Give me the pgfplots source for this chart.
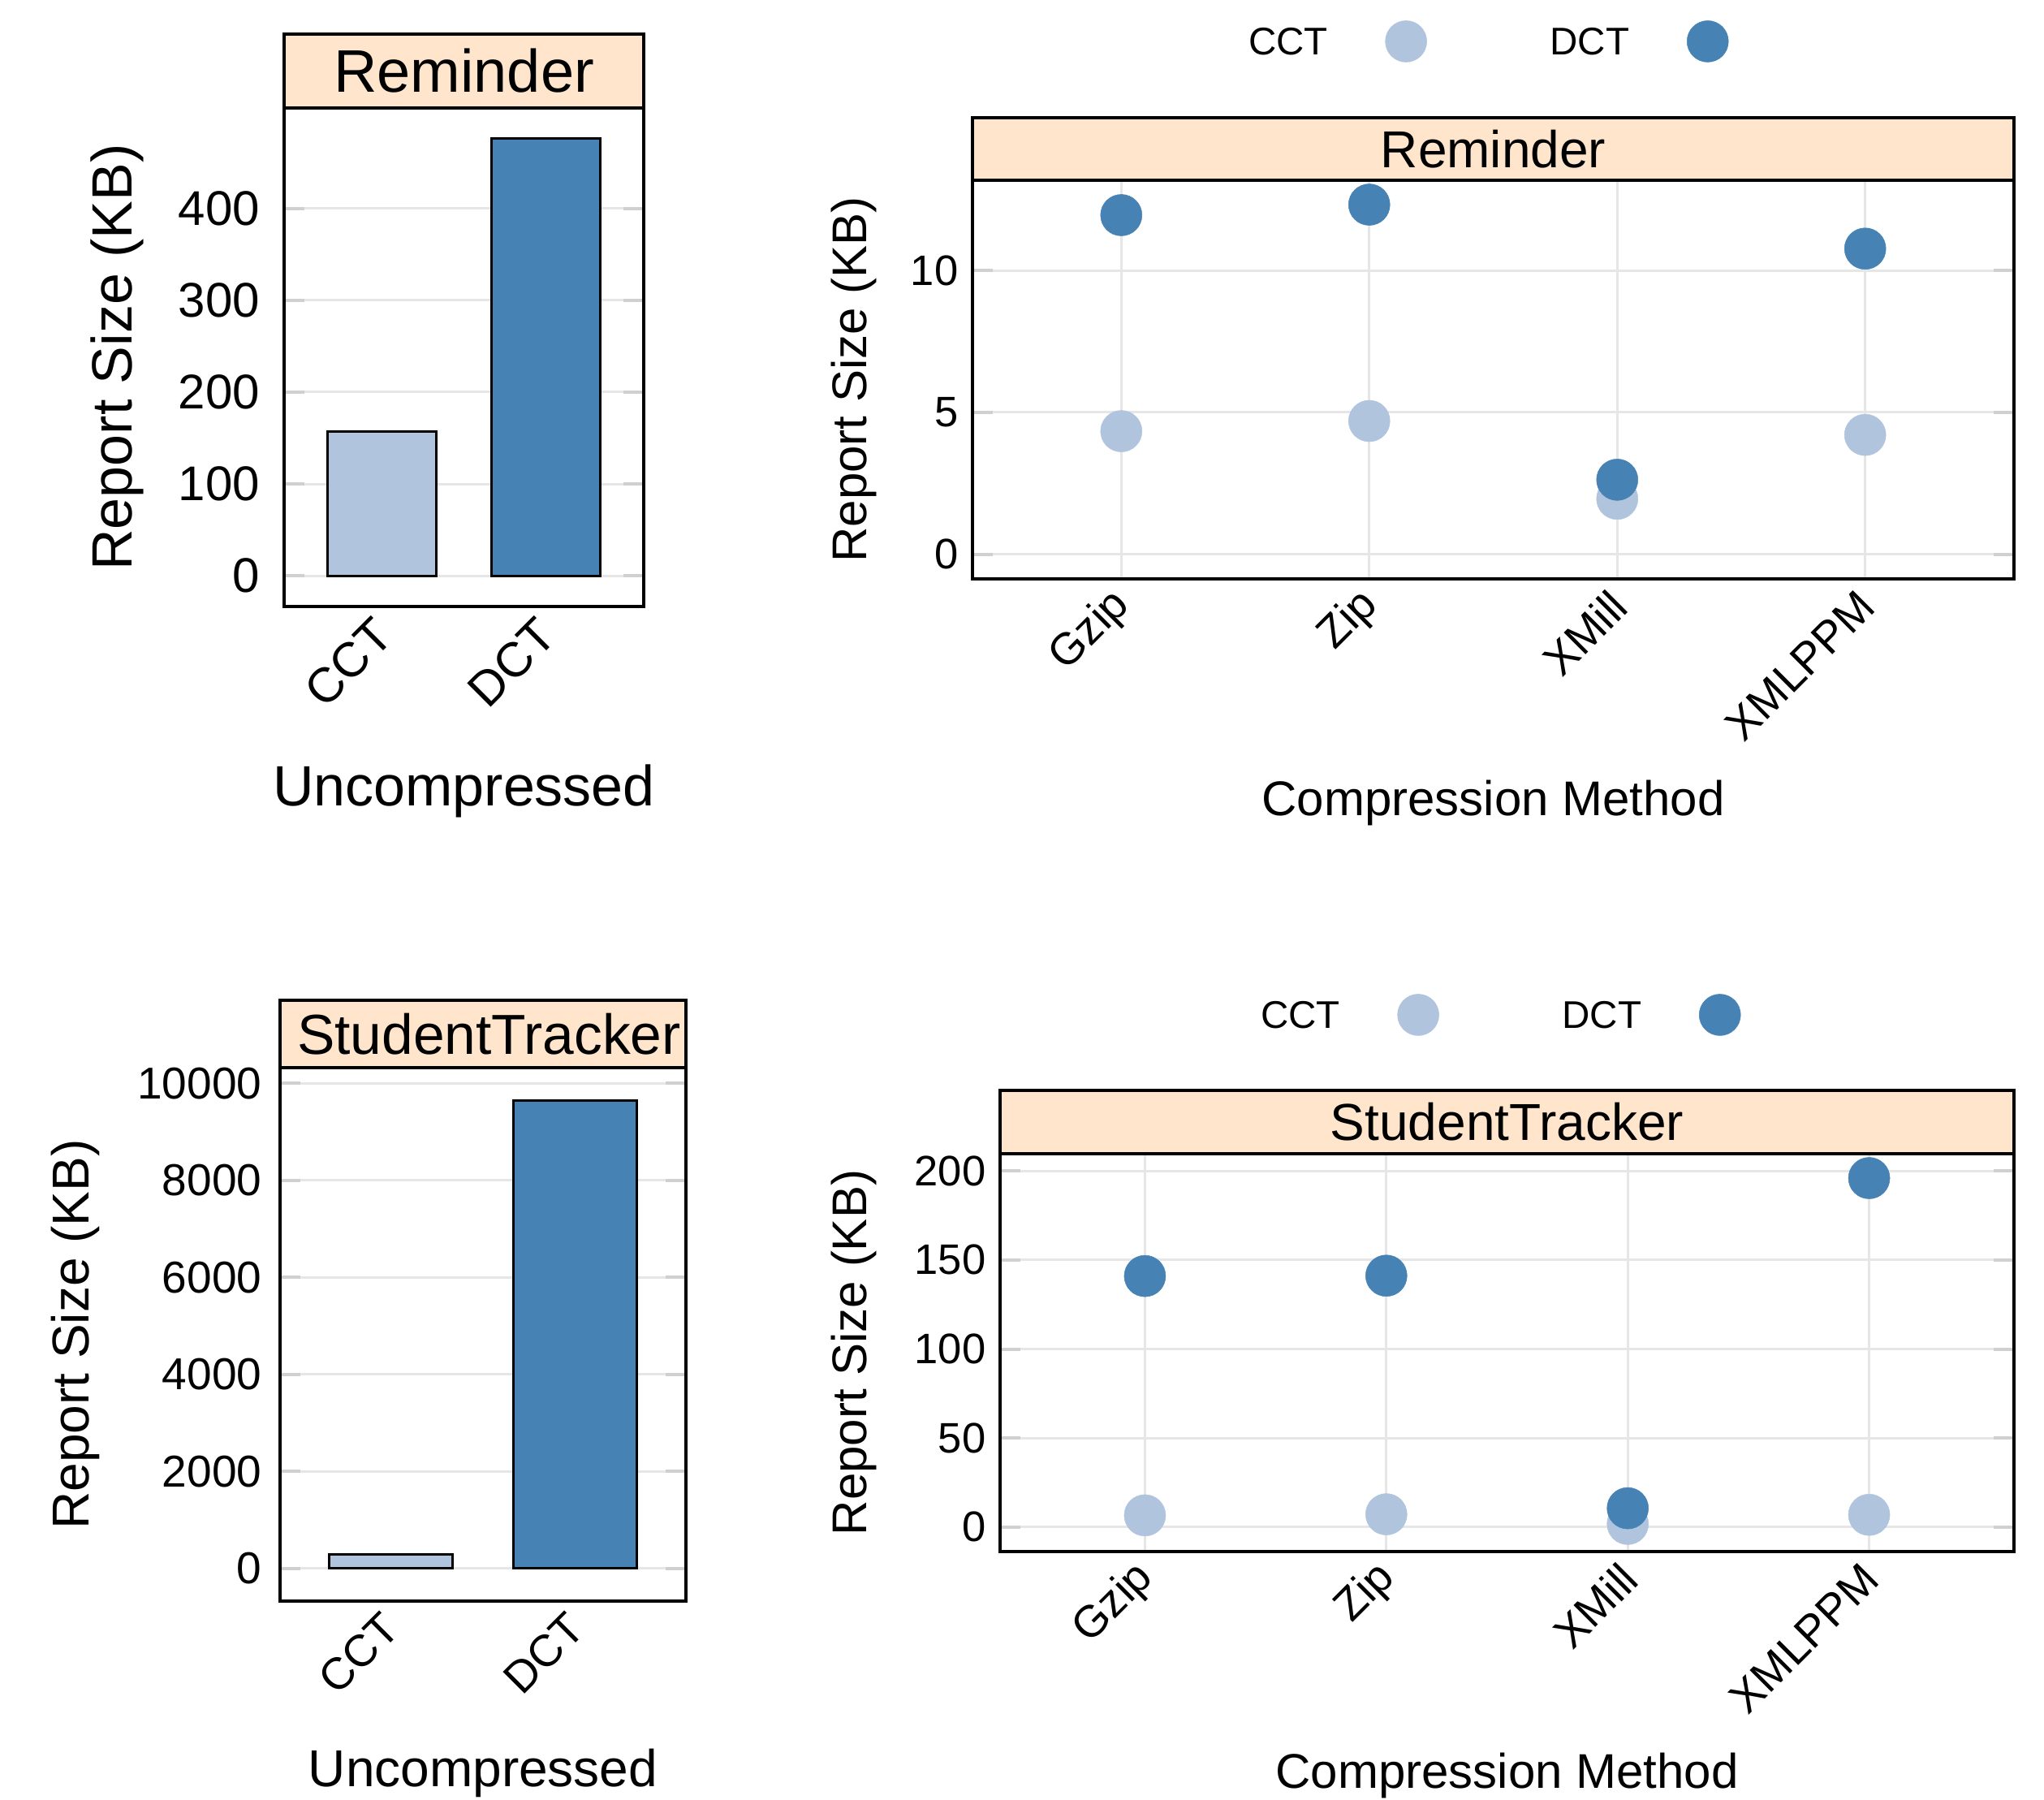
\documentclass[border=0pt]{standalone}
\usepackage{pgfplots}
\pgfplotsset{compat=1.18}
\usepackage{fontspec}
\setmainfont{Liberation Sans}
\definecolor{cct}{HTML}{B0C4DE}
\definecolor{dct}{HTML}{4682B4}
\definecolor{stripc}{HTML}{FFE5CC}
\definecolor{gridc}{HTML}{E6E6E6}
\definecolor{tickc}{HTML}{D0D0D0}

\pgfplotsset{
 base/.style={scale only axis, clip=false, anchor=south west,
   axis line style={line width=0.8pt},
   /pgf/number format/assume math mode=true,
   scaled y ticks=false,
   ymajorgrids, grid style={gridc, line width=0.6pt},
   ytick pos=both, tick align=inside, major tick length=5pt,
   ytick style={tickc, line width=0.8pt},
   xtick style={draw=none},
   yticklabel style={/pgf/number format/fixed, /pgf/number format/1000 sep={}},
   xticklabel style={anchor=east},
 },
 strip/.style n args={4}{extra description/.code={
    \draw[fill=stripc, line width=0.8pt] (0,1) rectangle ([yshift=#1]1,1);
    \node[font=#3, anchor=center, inner sep=0pt] at ([yshift=#1/2, xshift=#4]0.5,1) {#2};
 }},
 dotleg/.style={
   legend columns=2, legend plot pos=right,
   legend image code/.code={\draw[##1] plot coordinates {(0pt,3.4pt)};
      \path[draw=none, fill=none] (-5.1pt,-1.7pt) rectangle (21.3pt,8.5pt);},
   legend style={draw=none, fill=none, inner sep=0pt, outer sep=0pt,
      column sep=14.2pt, nodes={inner sep=0pt, anchor=base},
      font=\fontsize{9.5}{11}\selectfont,
      at={(axis description cs:0,1)}, anchor=west, xshift=#1, yshift=34.2pt},
 },
 dots/.style={only marks, mark=*, mark size=5.1pt, line width=0.1pt},
}

\begin{document}
\begin{tikzpicture}
\useasboundingbox (0pt,0pt) rectangle (503.6pt,443.4pt);

% ---------- top-left: Reminder, uncompressed ----------
\begin{axis}[base, at={(70pt,294pt)}, width=88.6pt, height=122.8pt,
  xmin=0.4, xmax=2.6, ymin=-33.3, ymax=509.3,
  xtick={1,2}, xticklabels={CCT,DCT}, ytick={0,100,200,300,400},
  tick label style={font=\fontsize{12}{14}\selectfont},
  yticklabel style={xshift=-2.5pt},
  xticklabel style={xshift=2.9pt, yshift=-2.6pt, rotate=45},
  xlabel={Uncompressed}, ylabel={Report Size (KB)},
  every axis y label/.style={at={(axis description cs:-0.464,0.5)}, rotate=90, anchor=center, font=\fontsize{14}{16}\selectfont},
  every axis x label/.style={at={(axis description cs:0.5,-0.371)}, anchor=center, font=\fontsize{14}{16}\selectfont},
  strip={18.2pt}{Reminder}{\fontsize{14.8}{17}\selectfont}{0pt}]
\addplot[ybar, bar shift=0pt, bar width=0.667, fill=cct, draw=black, line width=0.6pt] coordinates {(1,157)};
\addplot[ybar, bar shift=0pt, bar width=0.667, fill=dct, draw=black, line width=0.6pt] coordinates {(2,476)};
\end{axis}

% ---------- top-right: Reminder, compressed ----------
\begin{axis}[base, dotleg=68pt, at={(239.6pt,300.8pt)}, width=256.6pt, height=98.2pt,
  xmin=0.4, xmax=4.6, ymin=-0.862, ymax=13.18,
  xtick={1,2,3,4}, xticklabels={Gzip,Zip,XMill,XMLPPM}, ytick={0,5,10},
  xmajorgrids,
  yticklabel style={font=\fontsize{10.5}{12}\selectfont},
  xticklabel style={font=\fontsize{11}{13}\selectfont, xshift=2.9pt, yshift=-2.4pt, rotate=45},
  xlabel={Compression Method}, ylabel={Report Size (KB)},
  every axis y label/.style={at={(axis description cs:-0.114,0.5)}, rotate=90, anchor=center, font=\fontsize{12}{14}\selectfont},
  every axis x label/.style={at={(axis description cs:0.5,-0.562)}, anchor=center, font=\fontsize{12}{14}\selectfont},
  strip={15.4pt}{Reminder}{\fontsize{12.8}{15}\selectfont}{0pt}]
\addplot[dots, color=cct] coordinates {(1,4.34) (2,4.70) (3,1.96) (4,4.21)};
\addlegendentry{CCT}
\addplot[dots, color=dct] coordinates {(1,11.95) (2,12.32) (3,2.63) (4,10.77)};
\addlegendentry{DCT}
\end{axis}

% ---------- bottom-left: StudentTracker, uncompressed ----------
\begin{axis}[base, at={(69pt,49pt)}, width=100pt, height=131.4pt,
  xmin=0.4, xmax=2.6, ymin=-675.5, ymax=10325.5,
  xtick={1,2}, xticklabels={CCT,DCT}, ytick={0,2000,4000,6000,8000,10000},
  tick label style={font=\fontsize{11}{13}\selectfont},
  yticklabel style={xshift=-1pt},
  xticklabel style={xshift=2.7pt, yshift=-2.4pt, rotate=45},
  xlabel={Uncompressed}, ylabel={Report Size (KB)},
  every axis y label/.style={at={(axis description cs:-0.504,0.5)}, rotate=90, anchor=center, font=\fontsize{12.8}{15}\selectfont},
  every axis x label/.style={at={(axis description cs:0.5,-0.323)}, anchor=center, font=\fontsize{12.8}{15}\selectfont},
  strip={16.6pt}{StudentTracker}{\fontsize{13.9}{16}\selectfont}{1.5pt}]
\addplot[ybar, bar shift=0pt, bar width=0.667, fill=cct, draw=black, line width=0.6pt] coordinates {(1,285)};
\addplot[ybar, bar shift=0pt, bar width=0.667, fill=dct, draw=black, line width=0.6pt] coordinates {(2,9650)};
\end{axis}

% ---------- bottom-right: StudentTracker, compressed ----------
\begin{axis}[base, dotleg=64.2pt, at={(246.4pt,61.2pt)}, width=249.8pt, height=98pt,
  xmin=0.4, xmax=4.6, ymin=-13.72, ymax=209.7,
  xtick={1,2,3,4}, xticklabels={Gzip,Zip,XMill,XMLPPM}, ytick={0,50,100,150,200},
  xmajorgrids,
  yticklabel style={font=\fontsize{10.5}{12}\selectfont},
  xticklabel style={font=\fontsize{11}{13}\selectfont, xshift=2.9pt, yshift=-2.4pt, rotate=45},
  xlabel={Compression Method}, ylabel={Report Size (KB)},
  every axis y label/.style={at={(axis description cs:-0.144,0.5)}, rotate=90, anchor=center, font=\fontsize{12}{14}\selectfont},
  every axis x label/.style={at={(axis description cs:0.5,-0.563)}, anchor=center, font=\fontsize{12}{14}\selectfont},
  strip={15.6pt}{StudentTracker}{\fontsize{12.8}{15}\selectfont}{0pt}]
\addplot[dots, color=cct] coordinates {(1,6.6) (2,7.2) (3,1.8) (4,6.9)};
\addlegendentry{CCT}
\addplot[dots, color=dct] coordinates {(1,141.0) (2,141.2) (3,10.6) (4,196.0)};
\addlegendentry{DCT}
\end{axis}
\end{tikzpicture}
\end{document}
